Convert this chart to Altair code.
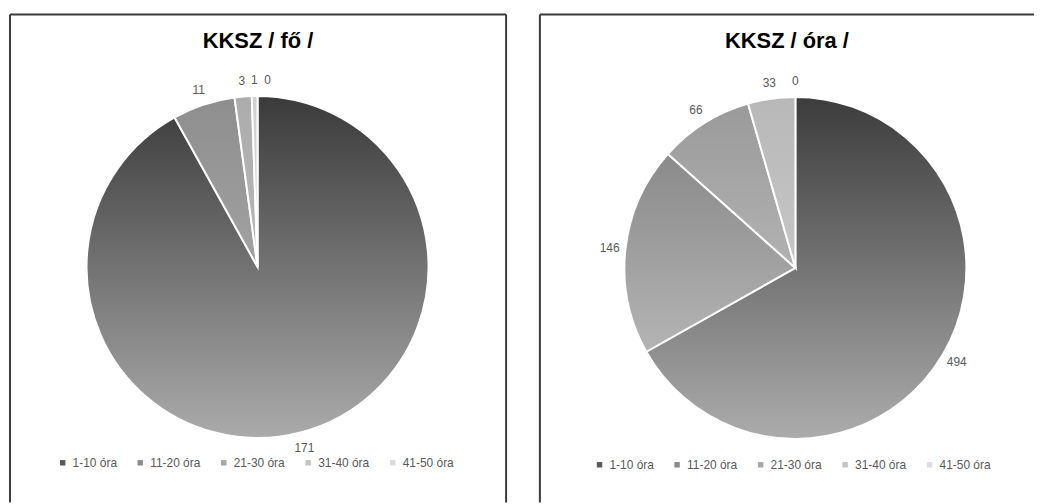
import altair as alt
import pandas as pd

categories = ["1-10 óra", "11-20 óra", "21-30 óra", "31-40 óra", "41-50 óra"]
fo_values = [171, 11, 3, 1, 0]
ora_values = [494, 146, 66, 33, 0]
titles = ["KKSZ / fő /", "KKSZ / óra /"]

solid = ["#5a5a5a", "#8c8c8c", "#a8a8a8", "#c4c4c4", "#dcdcdc"]
grad_left = [("#3a3a3a", "#ababab"), ("#8e8e8e", "#a2a2a2"), ("#acacac", "#b8b8b8"), ("#d0d0d0", "#d8d8d8"), ("#e0e0e0", "#e8e8e8")]
grad_right = [("#3c3c3c", "#acacac"), ("#8a8a8a", "#b4b4b4"), ("#9a9a9a", "#b2b2b2"), ("#b8b8b8", "#c6c6c6"), ("#e0e0e0", "#e8e8e8")]

FONT = "Liberation Sans"
R = 172
FRAME = "#3a3a3a"


def frame_layers(w, h, right_edge):
    fdf = pd.DataFrame({"k": [0]})
    fr = alt.Chart(fdf).mark_rule(color=FRAME, strokeWidth=2)
    out = [
        fr.encode(x=alt.value(0), x2=alt.value(w), y=alt.value(0)),
        fr.encode(x=alt.value(0), y=alt.value(0), y2=alt.value(h)),
    ]
    if right_edge:
        out.append(fr.encode(x=alt.value(w), y=alt.value(0), y2=alt.value(h)))
    return out


def pie(values, title, cx, cy, grads, legend_x, legend_y, w, h, zero_dx, right_edge):
    df = pd.DataFrame({"idx": list(range(len(categories))), "cat": categories, "v": values})
    sc = alt.Scale(domain=[0, sum(values)])
    base = (
        alt.Chart(df)
        .transform_window(end="sum(v)", sort=[alt.SortField("idx")], frame=[None, 0])
        .transform_calculate(start="datum.end - datum.v", mid="datum.end - datum.v / 2")
    )
    arcs = base.mark_arc(outerRadius=R, stroke="white", strokeWidth=2).encode(
        theta=alt.Theta("start:Q", scale=sc),
        theta2="end:Q",
        color=alt.Color(
            "cat:N",
            scale=alt.Scale(domain=categories, range=solid),
            legend=alt.Legend(
                orient="none", legendX=legend_x, legendY=legend_y, direction="horizontal",
                title=None, symbolType="square", symbolSize=30, symbolStrokeWidth=0,
                labelFontSize=12, labelFont=FONT, labelColor="#595959", columnPadding=17,
                labelOffset=4,
            ),
        ),
        x=alt.value(cx), y=alt.value(cy),
    )
    layers = [arcs]
    for i, (c1, c2) in enumerate(grads):
        if values[i] <= 0:
            continue
        g = alt.Gradient(
            gradient="linear",
            stops=[alt.GradientStop(offset=0, color=c1), alt.GradientStop(offset=1, color=c2)],
            x1=0, x2=0, y1=0, y2=1,
        )
        layers.append(
            base.transform_filter(f"datum.idx == {i}")
            .mark_arc(outerRadius=R, stroke="white", strokeWidth=2, fill=g)
            .encode(theta=alt.Theta("start:Q", scale=sc), theta2="end:Q",
                    x=alt.value(cx), y=alt.value(cy))
        )
    text_kw = dict(radius=188, fontSize=12, font=FONT, color="#595959")
    enc = dict(theta=alt.Theta("mid:Q", scale=sc), text="v:Q", x=alt.value(cx), y=alt.value(cy))
    layers.append(base.transform_filter("datum.v > 0").mark_text(**text_kw).encode(**enc))
    layers.append(base.transform_filter("datum.v <= 0").mark_text(dx=zero_dx, **text_kw).encode(**enc))
    layers += frame_layers(w, h, right_edge)
    return alt.layer(*layers).properties(
        width=w, height=h,
        title=alt.Title(title, offset=-40, fontSize=22, font=FONT, fontWeight="bold",
                        color="black", anchor="middle"),
    )


left = pie(fo_values, titles[0], 249, 254, grad_left, 47, 445, 499, 491, 10, True)
right = pie(ora_values, titles[1], 257, 255, grad_right, 54, 447, 497, 491, 0, False)

chart = (
    alt.hconcat(left, right, spacing=32)
    .resolve_scale(theta="independent", color="independent")
    .resolve_legend(color="independent")
    .properties(padding={"left": 1, "top": 4, "right": 0, "bottom": 0})
    .configure_view(strokeWidth=0)
)

chart.save("out.html", embed_options={"renderer": "svg", "actions": False})
